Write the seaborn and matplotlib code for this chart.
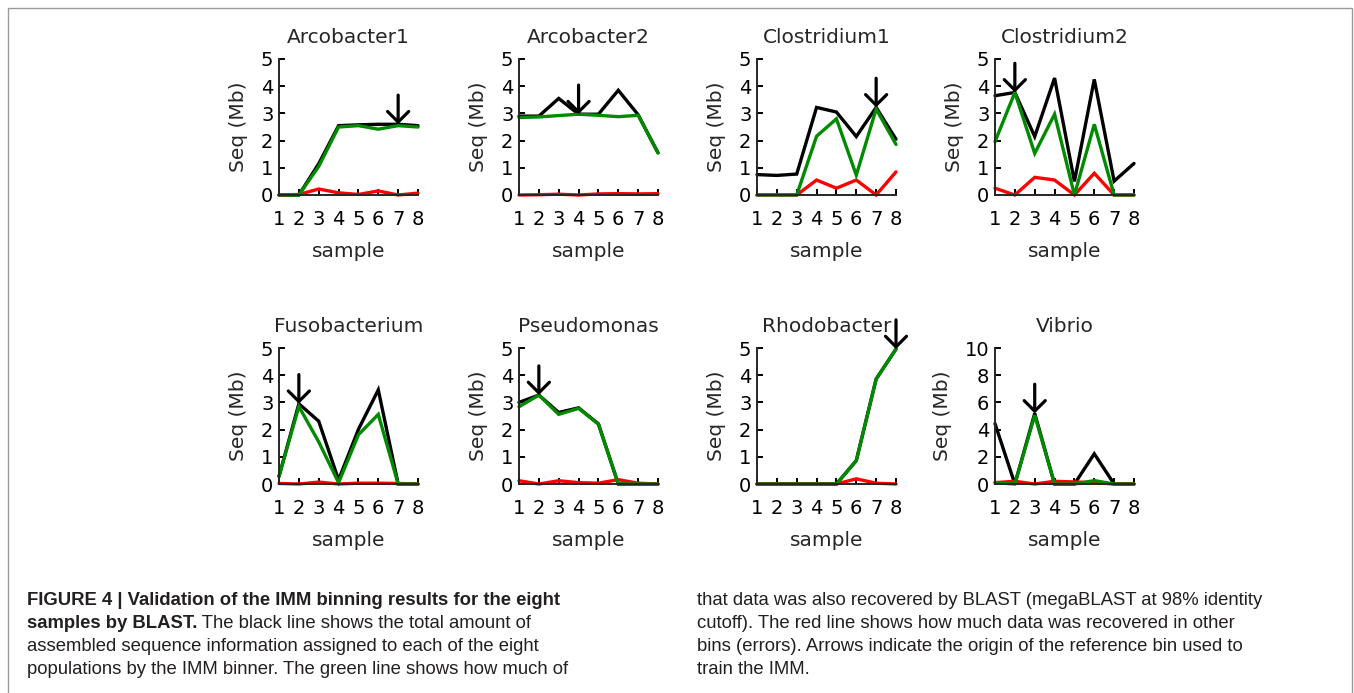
import matplotlib
matplotlib.use("Agg")
import matplotlib.pyplot as plt
from matplotlib.patches import Rectangle
import numpy as np
import pandas as pd
import seaborn as sns

# ---------------- data ----------------
panels = ["Arcobacter1", "Arcobacter2", "Clostridium1", "Clostridium2",
          "Fusobacterium", "Pseudomonas", "Rhodobacter", "Vibrio"]
samples = [1, 2, 3, 4, 5, 6, 7, 8]

# black: total assembled sequence assigned by the IMM binner (Mb)
total = [
    [0.00, 0.00, 1.15, 2.55, 2.58, 2.60, 2.60, 2.55],
    [2.90, 2.90, 3.55, 2.97, 2.97, 3.85, 2.95, 1.55],
    [0.75, 0.72, 0.77, 3.22, 3.05, 2.15, 3.22, 2.05],
    [3.65, 3.77, 2.15, 4.30, 0.50, 4.25, 0.51, 1.16],
    [0.28, 2.95, 2.31, 0.15, 2.01, 3.46, 0.00, 0.00],
    [3.00, 3.27, 2.63, 2.80, 2.21, 0.00, 0.00, 0.00],
    [0.00, 0.00, 0.00, 0.00, 0.00, 0.86, 3.86, 4.96],
    [4.44, 0.00, 5.19, 0.00, 0.00, 2.22, 0.00, 0.00],
]
# green: also recovered by BLAST
recovered = [
    [0.00, 0.00, 1.05, 2.50, 2.55, 2.42, 2.55, 2.50],
    [2.85, 2.87, 2.92, 2.97, 2.93, 2.88, 2.93, 1.55],
    [0.00, 0.00, 0.00, 2.16, 2.80, 0.73, 3.16, 1.86],
    [1.96, 3.77, 1.53, 2.97, 0.00, 2.60, 0.00, 0.00],
    [0.28, 2.85, 1.55, 0.05, 1.81, 2.56, 0.00, 0.00],
    [2.84, 3.27, 2.56, 2.78, 2.20, 0.00, 0.00, 0.00],
    [0.00, 0.00, 0.00, 0.00, 0.00, 0.86, 3.86, 4.96],
    [0.10, 0.00, 5.06, 0.00, 0.00, 0.25, 0.00, 0.00],
]
# red: recovered in other bins (errors)
errors = [
    [0.00, 0.02, 0.22, 0.08, 0.02, 0.15, 0.00, 0.07],
    [0.00, 0.01, 0.03, 0.00, 0.04, 0.05, 0.04, 0.05],
    [0.00, 0.00, 0.00, 0.55, 0.25, 0.55, 0.00, 0.85],
    [0.25, 0.00, 0.65, 0.55, 0.00, 0.80, 0.00, 0.00],
    [0.02, 0.00, 0.07, 0.00, 0.03, 0.03, 0.02, 0.00],
    [0.12, 0.00, 0.12, 0.05, 0.03, 0.16, 0.03, 0.00],
    [0.00, 0.00, 0.00, 0.00, 0.00, 0.19, 0.03, 0.00],
    [0.10, 0.20, 0.00, 0.20, 0.15, 0.10, 0.00, 0.00],
]
arrow_sample = [7, 4, 7, 2, 2, 2, 8, 3]
y_max = [5, 5, 5, 5, 5, 5, 5, 10]
y_step = [1, 1, 1, 1, 1, 1, 1, 2]

caption_left = [
    ("FIGURE 4 | Validation of the IMM binning results for the eight", ""),
    ("samples by BLAST.", " The black line shows the total amount of"),
    ("", "assembled sequence information assigned to each of the eight"),
    ("", "populations by the IMM binner. The green line shows how much of"),
]
caption_right = [
    "that data was also recovered by BLAST (megaBLAST at 98% identity",
    "cutoff). The red line shows how much data was recovered in other",
    "bins (errors). Arrows indicate the origin of the reference bin used to",
    "train the IMM.",
]

# ---------------- long-form table ----------------
rows = []
for p, name in enumerate(panels):
    for series, arr in (("total", total), ("errors", errors), ("recovered", recovered)):
        for s, v in zip(samples, arr[p]):
            rows.append({"panel": name, "series": series, "sample": s, "value": v})
df = pd.DataFrame(rows)

palette = {"total": "#000000", "errors": "#ff0000", "recovered": "#008a00"}
hue_order = ["total", "errors", "recovered"]

# ---------------- style ----------------
sns.set_style("ticks")
plt.rcParams["font.family"] = ["DejaVu Sans"]
plt.rcParams["lines.solid_joinstyle"] = "miter"
plt.rcParams["axes.linewidth"] = 1.4

W, H = 1354, 693
fig = plt.figure(figsize=(W / 100, H / 100), dpi=100)

col_left = [279, 519, 757, 995]
row_top = [59, 348]
ax_w, ax_h = 139, 136

for p, name in enumerate(panels):
    r, c = divmod(p, 4)
    left = col_left[c]
    top = row_top[r]
    ax = fig.add_axes([left / W, 1 - (top + ax_h) / H, ax_w / W, ax_h / H])
    sub = df[df["panel"] == name]
    sns.lineplot(data=sub, x="sample", y="value", hue="series", hue_order=hue_order,
                 palette=palette, legend=False, ax=ax, linewidth=2.4, estimator=None)
    for ln in ax.lines:
        ln.set_clip_on(False)
    ax.set_xlim(1, 8)
    ax.set_ylim(0, y_max[p])
    ax.set_xticks(samples)
    ax.set_yticks(np.arange(0, y_max[p] + 0.1, y_step[p]))
    ax.tick_params(axis="both", direction="in", length=4, width=1.4,
                   labelsize=14, colors="black")
    ax.tick_params(axis="x", pad=11)
    ax.tick_params(axis="y", pad=4)
    ax.set_xlabel("sample", fontsize=14.5, labelpad=9)
    ax.set_ylabel("Seq (Mb)", fontsize=14.5, labelpad=9)
    ax.set_title(name, fontsize=14.5, pad=11.5)
    sns.despine(ax=ax)
    s = arrow_sample[p]
    ax.annotate("", xy=(s, total[p][s - 1]), xycoords="data",
                xytext=(0, 21), textcoords="offset points",
                arrowprops=dict(arrowstyle="->,head_length=0.38,head_width=0.38",
                                lw=2.3, color="black", shrinkA=0, shrinkB=0,
                                mutation_scale=20),
                annotation_clip=False)

# ---------------- border ----------------
fig.add_artist(Rectangle((8 / W, -0.05), (1352 - 8) / W, 1 - 8 / H + 0.05,
                         transform=fig.transFigure, fill=False,
                         edgecolor="#9a9a9a", lw=1.0))

# ---------------- caption ----------------
cap_font = ["Liberation Sans", "DejaVu Sans"]
cap_color = "#231f20"
cap_size = 13.3
baselines = [605, 628, 651, 674]
for (bold, reg), yb in zip(caption_left, baselines):
    y = 1 - yb / H
    if bold:
        t1 = fig.text(27 / W, y, bold, fontsize=cap_size, fontweight="bold",
                      family=cap_font, color=cap_color, va="baseline")
        if reg:
            fig.axes[0].annotate(reg, xy=(1, 0), xycoords=t1, va="bottom", ha="left",
                                 fontsize=cap_size, family=cap_font, color=cap_color,
                                 annotation_clip=False)
    else:
        fig.text(27 / W, y, reg, fontsize=cap_size, family=cap_font,
                 color=cap_color, va="baseline")
for txt, yb in zip(caption_right, baselines):
    fig.text(697 / W, 1 - yb / H, txt, fontsize=cap_size, family=cap_font,
             color=cap_color, va="baseline")

fig.savefig("out.png", dpi=100)
